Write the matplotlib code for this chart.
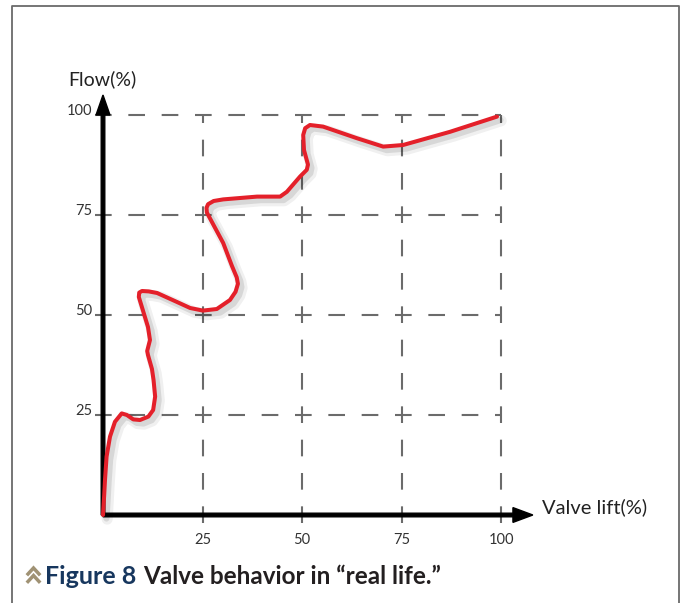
"""Valve behavior in "real life": flow vs valve lift, hand-drawn style figure."""

import matplotlib
matplotlib.use("Agg")
import matplotlib.pyplot as plt
import matplotlib.patheffects as pe
from matplotlib.lines import Line2D
from matplotlib.patches import FancyArrow

plt.rcParams["font.family"] = ["Lato", "DejaVu Sans"]
plt.rcParams["lines.scale_dashes"] = False

# ---------------------------------------------------------------- data
LIFT = [0, 0.3, 0.5, 0.9, 1.76, 3.0, 4.7, 6.0, 7.6, 9.3, 11.4, 12.6, 13.1, 12.7,
        12.3, 11.3, 11.1, 11.8, 11.3, 10.0, 9.0, 9.1, 9.8, 11.5, 13.6, 18.6, 21.9,
        25.1, 28.6, 31.9, 33.3, 33.9, 33.6, 32.4, 30.2, 26.1, 26.0, 26.4, 27.8,
        30.2, 38.7, 44.5, 46.2, 49.5, 51.2, 51.5, 50.5, 50.3, 50.8, 52.0, 55.3,
        63.8, 70.4, 75.4, 87.2, 99.0]
FLOW = [0, 5, 8.75, 14.6, 19.6, 23.3, 25.4, 25.0, 23.9, 23.75, 24.6, 26.25, 29.6,
        33.75, 36.5, 40, 41, 43.75, 47, 51.25, 54.5, 55.6, 56.0, 55.9, 55.5, 53.25,
        51.75, 51.1, 51.5, 53.75, 55.8, 57.8, 59.4, 62.25, 68, 75.6, 76.8, 77.7,
        78.5, 78.9, 79.6, 79.6, 80.8, 84.6, 86.3, 87.6, 91.25, 95, 96.7, 97.5,
        97.1, 94.2, 92.1, 92.5, 95.8, 99.6]
GRID_LEVELS = [25, 50, 75, 100]
TICK_LABELS = ["25", "50", "75", "100"]

# pixel geometry of the reference (683x603)
W, H = 683, 603
X0, Y0 = 103, 515          # origin in pixels
PX_X, PX_Y = 3.98, 4.0     # pixels per data unit

fig = plt.figure(figsize=(W / 100, H / 100), dpi=100)
ax = fig.add_axes([0, 0, 1, 1])
ax.set_xlim(-X0 / PX_X, (W - X0) / PX_X)
ax.set_ylim((Y0 - H) / PX_Y, Y0 / PX_Y)
ax.axis("off")

# dashed grid (dash centred on every crossing)
grid_kw = dict(color="#6b6b6b", lw=1.5, linestyle=(0, (12, 12)), zorder=1)
half = 8.35 / PX_X
for g in GRID_LEVELS:
    ax.plot([-half, 100], [g, g], **grid_kw)
    ax.plot([g, g], [-half, 100], **grid_kw)

# axes with arrow heads
ax.add_patch(FancyArrow(0, 0, 108, 0, width=0.9, head_width=3.7, head_length=5,
                        length_includes_head=True, color="black", zorder=3))
ax.add_patch(FancyArrow(0, 0, 0, 105, width=0.9, head_width=3.5, head_length=5,
                        length_includes_head=True, color="black", zorder=3))

# the curve with a soft drop shadow
ax.plot(LIFT, FLOW, color="#e4202a", lw=2.9, solid_joinstyle="round",
        solid_capstyle="round", zorder=4,
        path_effects=[pe.SimpleLineShadow(offset=(3, -3), shadow_color="black",
                                          alpha=0.06, linewidth=8),
                      pe.SimpleLineShadow(offset=(2.5, -2.5), shadow_color="black",
                                          alpha=0.10, linewidth=4.5),
                      pe.Normal()])

# tick labels
for g, lab in zip(GRID_LEVELS, TICK_LABELS):
    ax.text(-2.6, g, lab, ha="right", va="baseline", fontsize=10.5, color="#333333")
    ax.text(g, -6.3, lab, ha="center", va="center", fontsize=10.5, color="#333333")

ax.text((68 - X0) / PX_X, (Y0 - 79) / PX_Y, "Flow(%)", ha="left", va="center",
        fontsize=14, color="#222222")
ax.text((542 - X0) / PX_X, (Y0 - 507) / PX_Y, "Valve lift(%)", ha="left",
        va="center", fontsize=14.5, color="#222222")

# caption
fy = lambda y: 1 - y / H
fig.text(45 / W, fy(577), "Figure 8", ha="left", va="center", fontsize=18,
         fontweight="bold", color="#17375e")
fig.text(143 / W, fy(577), "Valve behavior in \u201creal life.\u201d", ha="left",
         va="center", fontsize=17.5, fontweight="bold", color="#231f20")
for top in (568, 575.5):
    fig.add_artist(Line2D([28 / W, 33.5 / W, 39 / W], [fy(top + 6), fy(top), fy(top + 6)],
                          color="#a09274", lw=2.5, solid_joinstyle="miter"))

# frame around the figure (left, top, right)
fig.add_artist(Line2D([12 / W, 12 / W, 679 / W, 679 / W], [0, fy(6), fy(6), 0],
                      color="#6a6a6a", lw=1.3))

fig.savefig("out.png", dpi=100)
